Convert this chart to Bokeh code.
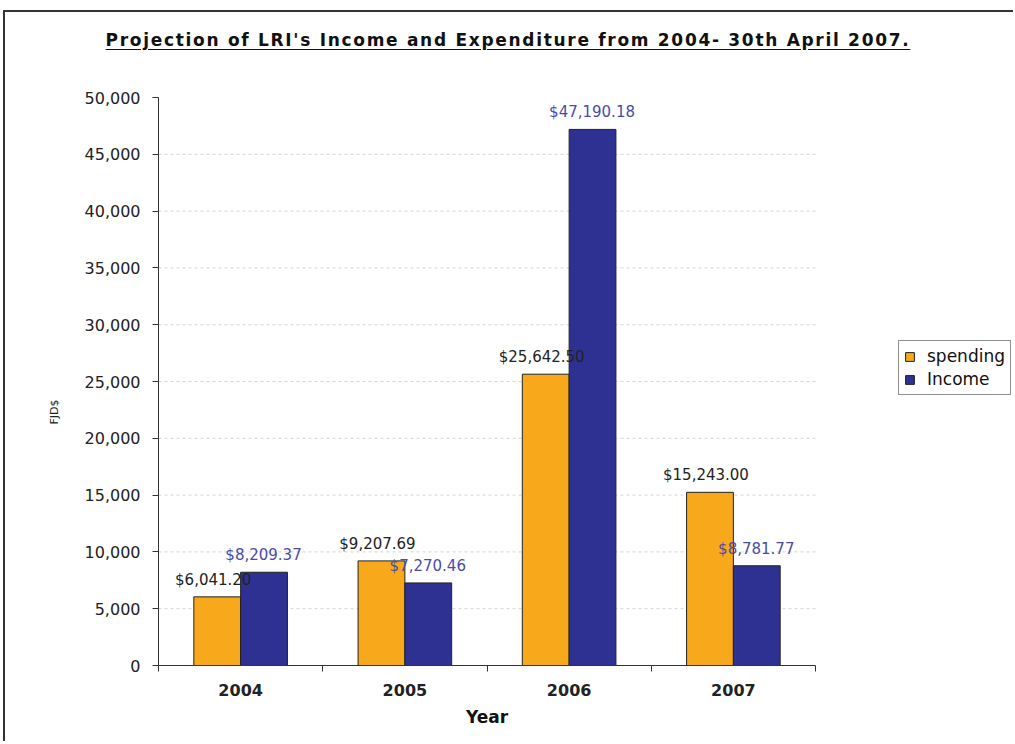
from bokeh.plotting import figure
from bokeh.models import (ColumnDataSource, Range1d, FixedTicker, NumeralTickFormatter,
                          Legend, LegendItem, Div)
from bokeh.layouts import column, row
from bokeh.transform import dodge
from bokeh.core.properties import value
from bokeh.embed import file_html
from bokeh.resources import INLINE

# ---- data ----
years = ["2004", "2005", "2006", "2007"]
spending = [6041.20, 9207.69, 25642.50, 15243.00]
income = [8209.37, 7270.46, 47190.18, 8781.77]
y_ticks = [0, 5000, 10000, 15000, 20000, 25000, 30000, 35000, 40000, 45000, 50000]
title_text = "Projection of LRI's Income and Expenditure from 2004- 30th April 2007."
x_title = "Year"
y_title = "FJD$"

SPEND_C = "#F7A81B"
INC_C = "#2E3192"
FONT = "DejaVu Sans"

# layout constants (pixels)
YLAB_W = 70
FIG_W, FIG_H = 1008 - YLAB_W, 623
BORDER_L, BORDER_R, BORDER_T, BORDER_B = 153 - YLAB_W, 0, 15, 40
FRAME_W = FIG_W - BORDER_L - BORDER_R
CAT_AREA_W = 657          # width taken by the 4 year categories
x_max = len(years) * FRAME_W / CAT_AREA_W

pos = [i + 0.5 for i in range(len(years))]
src = ColumnDataSource(dict(
    pos=pos, spending=spending, income=income,
    spend_lbl=[f"${v:,.2f}" for v in spending],
    inc_lbl=[f"${v:,.2f}" for v in income],
))
grid_vals = y_ticks[1:-1]
grid_src = ColumnDataSource(dict(y=grid_vals, x0=[0] * len(grid_vals),
                                 x1=[len(years)] * len(grid_vals)))

p = figure(width=FIG_W, height=FIG_H, output_backend="svg", toolbar_location=None,
           x_range=Range1d(0, x_max), y_range=Range1d(0, 50000),
           min_border_left=BORDER_L, min_border_right=BORDER_R,
           min_border_top=BORDER_T, min_border_bottom=BORDER_B)
p.outline_line_color = None
p.background_fill_color = "white"
p.border_fill_color = "white"
p.xgrid.grid_line_color = None
p.ygrid.grid_line_color = None

# dashed horizontal gridlines limited to the category area
p.segment(x0="x0", x1="x1", y0="y", y1="y", source=grid_src,
          line_color="#d4d4d4", line_dash="3 3", line_width=1)

bw = 0.285
r1 = p.vbar(x=dodge("pos", -bw / 2, range=p.x_range), top="spending", width=bw,
            source=src, fill_color=SPEND_C, line_color="#222222", line_width=1)
r2 = p.vbar(x=dodge("pos", bw / 2, range=p.x_range), top="income", width=bw,
            source=src, fill_color=INC_C, line_color="#222222", line_width=1)

p.text(x=dodge("pos", -bw / 2, range=p.x_range), y="spending", text="spend_lbl", source=src,
       text_font=value(FONT), text_font_size="15px", text_color="#222222",
       text_align="center", text_baseline="bottom", x_offset=-4, y_offset=-8)
p.text(x=dodge("pos", bw / 2, range=p.x_range), y="income", text="inc_lbl", source=src,
       text_font=value(FONT), text_font_size="15px", text_color="#4B4BA6",
       text_align="center", text_baseline="bottom", x_offset=-0.5, y_offset=-8)

# x axis
xa = p.xaxis[0]
xa.bounds = (0, len(years))
xa.ticker = FixedTicker(ticks=pos, minor_ticks=list(range(len(years) + 1)))
xa.major_label_overrides = {pp: y for pp, y in zip(pos, years)}
xa.major_tick_line_color = None
xa.major_tick_out = 0
xa.major_tick_in = 0
xa.minor_tick_out = 6
xa.minor_tick_in = 0
xa.minor_tick_line_color = "#333333"
xa.axis_line_color = "#333333"
xa.major_label_text_font = FONT
xa.major_label_text_font_size = "16px"
xa.major_label_text_font_style = "bold"
xa.major_label_text_color = "#222222"
xa.major_label_standoff = 12

# y axis
ya = p.yaxis[0]
ya.ticker = FixedTicker(ticks=y_ticks)
ya.formatter = NumeralTickFormatter(format="0,0")
ya.major_tick_out = 6
ya.major_tick_in = 0
ya.minor_tick_line_color = None
ya.axis_line_color = "#333333"
ya.major_tick_line_color = "#333333"
ya.major_label_text_font = FONT
ya.major_label_text_font_size = "16px"
ya.major_label_text_color = "#222222"
ya.major_label_standoff = 12

legend = Legend(items=[LegendItem(label="spending", renderers=[r1]),
                       LegendItem(label="Income", renderers=[r2])],
                location=(740, 270), glyph_width=11, glyph_height=11,
                label_text_font=FONT, label_text_font_size="17px",
                label_text_color="#111111", border_line_color="#222222",
                border_line_width=1, padding=5, spacing=3, label_height=19,
                label_standoff=12, margin=0, background_fill_alpha=1)
p.add_layout(legend, "center")

title = Div(
    text=(f"<div style=\"width:1006px;font-family:'DejaVu Sans';font-weight:bold;"
          f"font-size:17px;letter-spacing:1.7px;text-align:center;"
          f"text-decoration:underline;text-underline-offset:3px;"
          f"color:#111111;padding-top:16px;white-space:nowrap\">{title_text}</div>"),
    width=1006, height=70, margin=0)

ylab = Div(
    text=(f"<div style=\"position:relative;width:{YLAB_W}px;height:{FIG_H}px\">"
          f"<div style=\"position:absolute;left:50px;top:330px;"
          f"transform:translate(-50%,-50%) rotate(-90deg);font-family:'DejaVu Sans';"
          f"font-size:11px;color:#222222;white-space:nowrap\">{y_title}</div></div>"),
    width=YLAB_W, height=FIG_H, margin=0)

xlab = Div(
    text=(f"<div style=\"width:964px;font-family:'DejaVu Sans';font-weight:bold;"
          f"font-size:17px;text-align:center;line-height:24px;color:#111111;"
          f"white-space:nowrap\">{x_title}</div>"),
    width=964, height=36, margin=0)

root = column(title, row(ylab, p, spacing=0, margin=0), xlab, margin=(10, 0, 0, 3),
              spacing=0,
              styles={"border-top": "2px solid #333333", "border-left": "2px solid #333333"})

open("out.html", "w").write(file_html(root, INLINE))
